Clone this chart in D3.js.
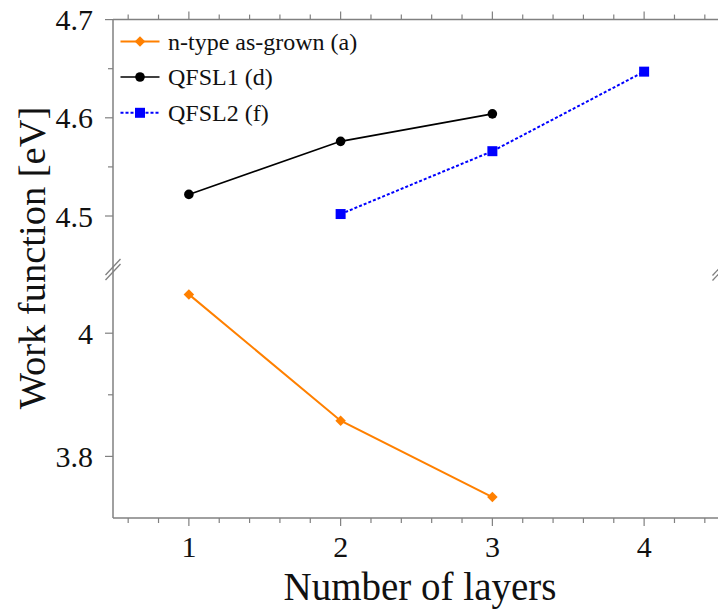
<!DOCTYPE html>
<html>
<head>
<meta charset="utf-8">
<script src="https://cdn.jsdelivr.net/npm/d3@7"></script>
<style>
  html, body { margin: 0; padding: 0; background: #fff; }
  svg { display: block; }
  text { font-family: "Liberation Serif", "Times New Roman", serif; fill: #111; }
</style>
</head>
<body>
<svg id="chart" width="718" height="609"></svg>
<script>
// Work function vs. number of layers, with a broken y axis
const layers = [1, 2, 3, 4];
const seriesNames = ["n-type as-grown (a)", "QFSL1 (d)", "QFSL2 (f)"];
const nTypeX = [1, 2, 3];
const nTypeY = [4.063, 3.858, 3.734];
const qfsl1X = [1, 2, 3];
const qfsl1Y = [4.522, 4.576, 4.604];
const qfsl2X = [2, 3, 4];
const qfsl2Y = [4.502, 4.566, 4.647];
const topTicks = [4.5, 4.6, 4.7];
const topTickLabels = ["4.5", "4.6", "4.7"];
const topMinor = [4.55, 4.65];
const botTicks = [3.8, 4.0];
const botTickLabels = ["3.8", "4"];
const botMinor = [3.9];
const xMinor = d3.range(6, 45, 2).map(v => v / 10).filter(v => Math.abs(v - Math.round(v)) > 1e-6);

const svg = d3.select("#chart");
const plotLeft = 113, plotRight = 720, plotTop = 19.6, plotBottom = 518;
const breakTop = 265.1, breakBot = 271.6;
const axisColor = "#808080";

const x = d3.scaleLinear().domain([0.5, 4.5]).range([plotLeft, plotRight]);
const yTop = d3.scaleLinear().domain([4.45, 4.7]).range([breakTop, plotTop]);
const yBot = d3.scaleLinear().domain([3.7, 4.1]).range([plotBottom, breakBot]);

// frame lines
const frame = svg.append("g").attr("stroke", axisColor).attr("stroke-width", 1.5);
frame.append("line").attr("x1", plotLeft).attr("x2", plotLeft).attr("y1", plotTop).attr("y2", plotBottom);
frame.append("line").attr("x1", plotLeft).attr("x2", plotRight).attr("y1", plotTop).attr("y2", plotTop);
frame.append("line").attr("x1", plotLeft).attr("x2", plotRight).attr("y1", plotBottom).attr("y2", plotBottom);
frame.append("line").attr("x1", plotRight).attr("x2", plotRight).attr("y1", plotTop).attr("y2", plotBottom);

// y ticks (left, outward)
const ticks = svg.append("g").attr("stroke", axisColor).attr("stroke-width", 1.2);
function yTicks(scale, major, minor) {
  major.forEach(v => ticks.append("line").attr("x1", plotLeft - 8).attr("x2", plotLeft).attr("y1", scale(v)).attr("y2", scale(v)));
  minor.forEach(v => ticks.append("line").attr("x1", plotLeft - 5).attr("x2", plotLeft).attr("y1", scale(v)).attr("y2", scale(v)));
}
yTicks(yTop, topTicks, topMinor);
yTicks(yBot, botTicks, botMinor);

// x ticks on bottom (down) and top (up)
layers.forEach(v => {
  ticks.append("line").attr("x1", x(v)).attr("x2", x(v)).attr("y1", plotBottom).attr("y2", plotBottom + 8);
  ticks.append("line").attr("x1", x(v)).attr("x2", x(v)).attr("y1", plotTop).attr("y2", plotTop - 8);
});
xMinor.forEach(v => {
  ticks.append("line").attr("x1", x(v)).attr("x2", x(v)).attr("y1", plotBottom).attr("y2", plotBottom + 5);
  ticks.append("line").attr("x1", x(v)).attr("x2", x(v)).attr("y1", plotTop).attr("y2", plotTop - 5);
});

// axis break marks
function breakMark(cx, cy) {
  [-2.5, 2.5].forEach(dy => {
    svg.append("line")
      .attr("x1", cx - 7.5).attr("y1", cy + 8 + dy)
      .attr("x2", cx + 7.5).attr("y2", cy - 8 + dy)
      .attr("stroke", axisColor).attr("stroke-width", 1.3);
  });
}
breakMark(plotLeft, 269.5);
breakMark(plotRight, 270);

// tick labels
const labelSize = 30;
topTicks.forEach((v, i) => svg.append("text").attr("x", plotLeft - 20).attr("y", yTop(v))
  .attr("text-anchor", "end").attr("dominant-baseline", "central")
  .attr("font-size", labelSize).text(topTickLabels[i]));
botTicks.forEach((v, i) => svg.append("text").attr("x", plotLeft - 20).attr("y", yBot(v))
  .attr("text-anchor", "end").attr("dominant-baseline", "central")
  .attr("font-size", labelSize).text(botTickLabels[i]));
layers.forEach(v => svg.append("text").attr("x", x(v)).attr("y", 557)
  .attr("text-anchor", "middle").attr("font-size", labelSize).text(String(v)));

// axis titles
svg.append("text").attr("x", 420).attr("y", 600)
  .attr("text-anchor", "middle").attr("font-size", 39).text("Number of layers");
svg.append("text").attr("transform", "translate(45,258) rotate(-90)")
  .attr("text-anchor", "middle").attr("font-size", 38.5).text("Work function [eV]");

// series
const orange = "#ff8000", blue = "#0000ff", black = "#000000";
const diamond = d3.symbol().type(d3.symbolDiamond2).size(70);
const square = d3.symbol().type(d3.symbolSquare).size(100);

function drawSeries(xs, ys, scale, color, width, dash, marker) {
  const pts = xs.map((v, i) => [x(v), scale(ys[i])]);
  svg.append("path").attr("d", d3.line()(pts)).attr("fill", "none")
    .attr("stroke", color).attr("stroke-width", width)
    .attr("stroke-dasharray", dash);
  pts.forEach(p => marker(p, color));
}
const markDiamond = (p, c) => svg.append("path").attr("d", diamond()).attr("transform", `translate(${p[0]},${p[1]})`).attr("fill", c);
const markCircle = (p, c) => svg.append("circle").attr("cx", p[0]).attr("cy", p[1]).attr("r", 4.8).attr("fill", c);
const markSquare = (p, c) => svg.append("path").attr("d", square()).attr("transform", `translate(${p[0]},${p[1]})`).attr("fill", c);

drawSeries(nTypeX, nTypeY, yBot, orange, 2, null, markDiamond);
drawSeries(qfsl1X, qfsl1Y, yTop, black, 1.6, null, markCircle);
drawSeries(qfsl2X, qfsl2Y, yTop, blue, 2, "3,2", markSquare);

// legend
const legendRows = [
  { name: seriesNames[0], color: orange, width: 2, dash: null, marker: markDiamond, y: 41.5 },
  { name: seriesNames[1], color: black, width: 1.6, dash: null, marker: markCircle, y: 77 },
  { name: seriesNames[2], color: blue, width: 2, dash: "3,2", marker: markSquare, y: 112.8 }
];
legendRows.forEach(r => {
  svg.append("line").attr("x1", 120.5).attr("x2", 159.5).attr("y1", r.y).attr("y2", r.y)
    .attr("stroke", r.color).attr("stroke-width", r.width).attr("stroke-dasharray", r.dash);
  r.marker([140, r.y], r.color);
  svg.append("text").attr("x", 168).attr("y", r.y).attr("dominant-baseline", "central")
    .attr("font-size", 24).text(r.name);
});
</script>
</body>
</html>
